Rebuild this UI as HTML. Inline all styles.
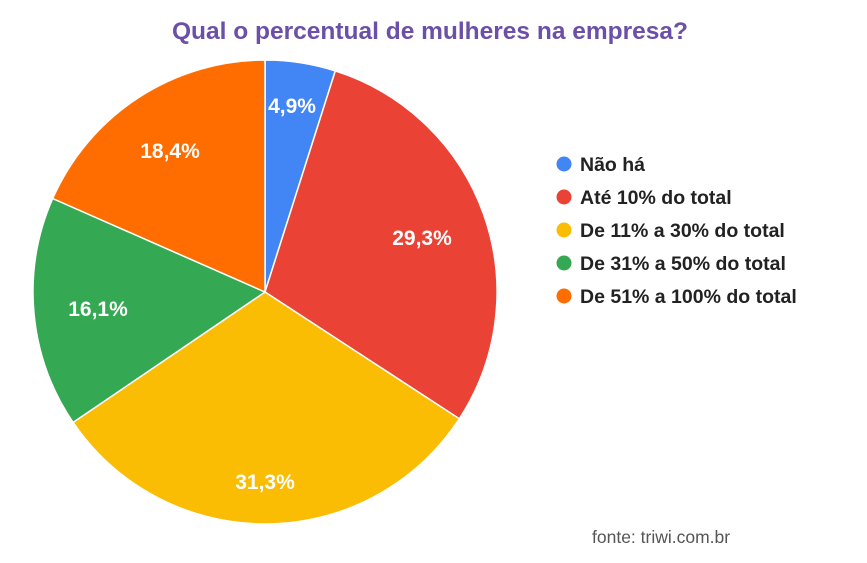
<!DOCTYPE html>
<html><head><meta charset="utf-8"><style>
body{margin:0;background:#fff;}
svg{display:block;font-family:"Liberation Sans",sans-serif;}
</style></head><body>
<svg width="867" height="563" viewBox="0 0 867 563">
<rect width="867" height="563" fill="#fff"/>
<text x="430" y="39" text-anchor="middle" font-size="24.5" font-weight="bold" fill="#6b4fa8">Qual o percentual de mulheres na empresa?</text>
<g stroke="#fff" stroke-width="1.5">
<path d="M265 292 L265 60 A232 232 0 0 1 335.3 70.9 Z" fill="#4285f4"/>
<path d="M265 292 L335.3 70.9 A232 232 0 0 1 459.3 418.8 Z" fill="#ea4335"/>
<path d="M265 292 L459.3 418.8 A232 232 0 0 1 73.1 422.4 Z" fill="#fbbc04"/>
<path d="M265 292 L73.1 422.4 A232 232 0 0 1 52.7 198.5 Z" fill="#34a853"/>
<path d="M265 292 L52.7 198.5 A232 232 0 0 1 265 60 Z" fill="#ff6d01"/>
</g>
<g fill="#fff" font-size="21" font-weight="bold" text-anchor="middle">
<text x="292" y="113">4,9%</text>
<text x="422" y="245">29,3%</text>
<text x="265" y="489">31,3%</text>
<text x="98" y="316">16,1%</text>
<text x="170" y="158">18,4%</text>
</g>
<g font-size="19.5" font-weight="bold" fill="#222">
<circle cx="564" cy="164" r="7.5" fill="#4285f4"/><text x="580" y="171">Não há</text>
<circle cx="564" cy="197" r="7.5" fill="#ea4335"/><text x="580" y="204">Até 10% do total</text>
<circle cx="564" cy="230" r="7.5" fill="#fbbc04"/><text x="580" y="237">De 11% a 30% do total</text>
<circle cx="564" cy="263" r="7.5" fill="#34a853"/><text x="580" y="270">De 31% a 50% do total</text>
<circle cx="564" cy="296" r="7.5" fill="#ff6d01"/><text x="580" y="303">De 51% a 100% do total</text>
</g>
<text x="592" y="543" font-size="17.5" fill="#555">fonte: triwi.com.br</text>
</svg>
</body></html>
